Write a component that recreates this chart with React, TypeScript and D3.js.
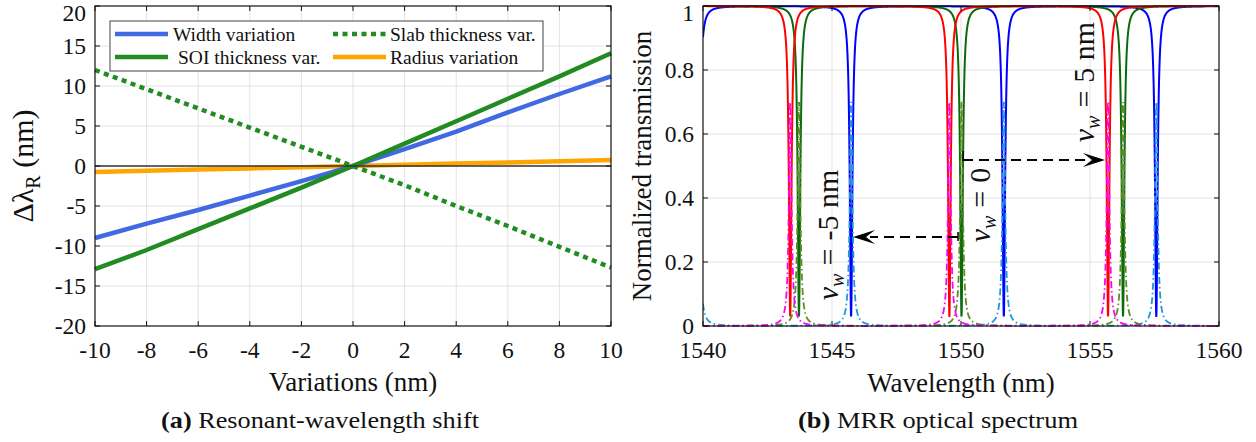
import React from 'react';
import * as d3 from 'd3';

// ---------- Panel (a) data ----------
const variations = [-10, -8, -6, -4, -2, 0, 2, 4, 6, 8, 10];
const widthShift = [-9.0, -7.2, -5.5, -3.7, -1.9, 0, 2.1, 4.3, 6.7, 9.0, 11.2];
const soiShift = [-12.9, -10.5, -7.9, -5.3, -2.7, 0, 2.8, 5.6, 8.4, 11.2, 14.1];
const slabShift = [12.0, 9.6, 7.2, 4.8, 2.4, 0, -2.4, -5.0, -7.5, -10.1, -12.7];
const radiusShift = [-0.75, -0.6, -0.45, -0.3, -0.15, 0, 0.15, 0.3, 0.45, 0.6, 0.75];
const xTicksA = [-10, -8, -6, -4, -2, 0, 2, 4, 6, 8, 10];
const yTicksA = [-20, -15, -10, -5, 0, 5, 10, 15, 20];

// ---------- Panel (b) data ----------
const xTicksB = [1540, 1545, 1550, 1555, 1560];
const yTicksB = [0, 0.2, 0.4, 0.6, 0.8, 1];
const yTickLabelsB = ['0', '0.2', '0.4', '0.6', '0.8', '1'];
const resonancesNeg = [1543.38, 1549.55, 1555.7]; // red / magenta
const resonancesZero = [1543.72, 1550.02, 1556.28]; // green / olive
const resonancesPos = [1539.82, 1545.74, 1551.66, 1557.57]; // blue / cyan
const dipMin = 0.03;
const dropPeak = 0.7;
const linewidth = 0.12;

const FONT = 'Liberation Serif, DejaVu Serif, serif';

const A = { x0: 95, x1: 611, y0: 6, y1: 326 };
const B = { x0: 703, x1: 1219, y0: 6, y1: 326 };

function lor(l: number, c: number) {
  const u = (2 * (l - c)) / linewidth;
  return 1 / (1 + u * u);
}

const lambdas = d3.range(1540, 1560.0001, 0.004);
function through(res: number[]) {
  return lambdas.map((l) => [l, 1 - (1 - dipMin) * d3.sum(res, (c) => lor(l, c))] as [number, number]);
}
function drop(res: number[]) {
  return lambdas.map((l) => [l, dropPeak * d3.sum(res, (c) => lor(l, c))] as [number, number]);
}

function Grid({ box, xs, ys, xt, yt }: any) {
  return (
    <g>
      {xt.slice(1, -1).map((t: number) => (
        <line key={'gx' + t} x1={xs(t)} x2={xs(t)} y1={box.y0} y2={box.y1} stroke="#e3e3e3" strokeWidth={1} />
      ))}
      {yt.slice(1, -1).map((t: number) => (
        <line key={'gy' + t} x1={box.x0} x2={box.x1} y1={ys(t)} y2={ys(t)} stroke="#e3e3e3" strokeWidth={1} />
      ))}
    </g>
  );
}

function Frame({ box, xs, ys, xt, yt, ytl }: any) {
  return (
    <g style={{ fontFamily: FONT }}>
      <rect x={box.x0} y={box.y0} width={box.x1 - box.x0} height={box.y1 - box.y0} fill="none" stroke="#111" strokeWidth={1.2} />
      {xt.map((t: number) => (
        <g key={'tx' + t}>
          <line x1={xs(t)} x2={xs(t)} y1={box.y1} y2={box.y1 - 5} stroke="#111" />
          <line x1={xs(t)} x2={xs(t)} y1={box.y0} y2={box.y0 + 5} stroke="#111" />
          <text x={xs(t)} y={358} textAnchor="middle" fontSize={23.5} fill="#111">
            {String(t)}
          </text>
        </g>
      ))}
      {yt.map((t: number, i: number) => (
        <g key={'ty' + t}>
          <line x1={box.x0} x2={box.x0 + 5} y1={ys(t)} y2={ys(t)} stroke="#111" />
          <line x1={box.x1} x2={box.x1 - 5} y1={ys(t)} y2={ys(t)} stroke="#111" />
          <text x={box.x0 - 9} y={Math.max(ys(t) + 8, 21)} textAnchor="end" fontSize={23.5} fill="#111">
            {ytl ? ytl[i] : String(t)}
          </text>
        </g>
      ))}
    </g>
  );
}

function Arrowhead({ x, y, dir }: { x: number; y: number; dir: number }) {
  const L = 22, Wd = 7, N = 13;
  const d = `M${x},${y} L${x + dir * L},${y - Wd} L${x + dir * N},${y} L${x + dir * L},${y + Wd} Z`;
  return <path d={d} fill="#000" />;
}

export default function App() {
  const xA = d3.scaleLinear().domain([-10, 10]).range([A.x0, A.x1]);
  const yA = d3.scaleLinear().domain([-20, 20]).range([A.y1, A.y0]);
  const xB = d3.scaleLinear().domain([1540, 1560]).range([B.x0, B.x1]);
  const yB = d3.scaleLinear().domain([0, 1]).range([B.y1, B.y0]);

  const lineA = (vals: number[]) =>
    d3.line<number>().x((_, i) => xA(variations[i])).y((v) => yA(v))(vals) || '';
  const lineB = d3
    .line<[number, number]>()
    .x((d) => xB(d[0]))
    .y((d) => yB(d[1]));

  const legendItems = [
    { label: 'Width variation', color: '#4169E1', dash: undefined, lx: 115, tx: 173, y: 34 },
    { label: 'SOI thickness var.', color: '#228B22', dash: undefined, lx: 115, tx: 178, y: 57 },
    { label: 'Slab thickness var.', color: '#228B22', dash: '5,4.5', lx: 333, tx: 390, y: 34 },
    { label: 'Radius variation', color: '#FFA500', dash: undefined, lx: 333, tx: 390, y: 57 },
  ];

  const dashDot = '7,3,1.5,3';

  return (
    <svg width={1256} height={442} style={{ position: 'absolute', left: 0, top: 0, background: '#fff', fontFamily: FONT }}>
      <rect width={1256} height={442} fill="#fff" />
      {/* ---------- Panel (a) ---------- */}
      <Grid box={A} xs={xA} ys={yA} xt={xTicksA} yt={yTicksA} />
      <path d={lineA(radiusShift)} fill="none" stroke="#FFA500" strokeWidth={4.5} />
      <path d={lineA(widthShift)} fill="none" stroke="#4169E1" strokeWidth={4.5} />
      <path d={lineA(soiShift)} fill="none" stroke="#228B22" strokeWidth={4.5} />
      <path d={lineA(slabShift)} fill="none" stroke="#228B22" strokeWidth={4.5} strokeDasharray="5,4.5" />
      <line x1={A.x0} x2={A.x1} y1={yA(0)} y2={yA(0)} stroke="#333" strokeWidth={1.5} />
      <Frame box={A} xs={xA} ys={yA} xt={xTicksA} yt={yTicksA} />
      <g>
        <rect x={110} y={21} width={433} height={50} fill="#fff" stroke="#444" strokeWidth={1} />
        {legendItems.map((it) => (
          <g key={it.label}>
            <line x1={it.lx} x2={it.lx + 53} y1={it.y} y2={it.y} stroke={it.color} strokeWidth={4.5} strokeDasharray={it.dash} />
            <text x={it.tx} y={it.y + 7} fontSize={19.5} fill="#111">
              {it.label}
            </text>
          </g>
        ))}
      </g>
      <text transform="translate(33,166) rotate(-90)" textAnchor="middle" fontSize={30} fill="#111">
        Δλ<tspan fontSize={20} dy={7}>R</tspan>
        <tspan dy={-7}> (nm)</tspan>
      </text>
      <text x={353} y={391} textAnchor="middle" fontSize={27} fill="#111">
        Variations (nm)
      </text>
      <text x={320} y={428} textAnchor="middle" fontSize={23} fill="#111" textLength={318} lengthAdjust="spacingAndGlyphs">
        <tspan fontWeight="bold">(a)</tspan> Resonant-wavelength shift
      </text>

      {/* ---------- Panel (b) ---------- */}
      <Grid box={B} xs={xB} ys={yB} xt={xTicksB} yt={yTicksB} />
      <defs>
        <clipPath id="clipB">
          <rect x={B.x0} y={B.y0 - 2} width={B.x1 - B.x0} height={B.y1 - B.y0 + 4} />
        </clipPath>
      </defs>
      <g clipPath="url(#clipB)">
        <path d={lineB(through(resonancesPos)) || ''} fill="none" stroke="#0000FF" strokeWidth={2} />
        <path d={lineB(through(resonancesZero)) || ''} fill="none" stroke="#0B6B0B" strokeWidth={2} />
        <path d={lineB(through(resonancesNeg)) || ''} fill="none" stroke="#FF0000" strokeWidth={2} />
        <path d={lineB(drop(resonancesPos)) || ''} fill="none" stroke="#1A9BD7" strokeWidth={1.8} strokeDasharray={dashDot} />
        <path d={lineB(drop(resonancesZero)) || ''} fill="none" stroke="#5E8C22" strokeWidth={1.8} strokeDasharray={dashDot} />
        <path d={lineB(drop(resonancesNeg)) || ''} fill="none" stroke="#FF00FF" strokeWidth={1.8} strokeDasharray={dashDot} />
      </g>
      <Frame box={B} xs={xB} ys={yB} xt={xTicksB} yt={yTicksB} ytl={yTickLabelsB} />

      {/* annotations */}
      <line x1={958} x2={870} y1={237} y2={237} stroke="#000" strokeWidth={2} strokeDasharray="10,6" />
      <line x1={958} x2={958} y1={232} y2={241} stroke="#000" strokeWidth={1.5} />
      <Arrowhead x={853} y={237} dir={1} />
      <line x1={963} x2={1090} y1={160} y2={160} stroke="#000" strokeWidth={2} strokeDasharray="10,6" />
      <line x1={963} x2={963} y1={151} y2={161} stroke="#000" strokeWidth={1.5} />
      <Arrowhead x={1105} y={160} dir={-1} />

      {[
        { x: 838, y: 235, rest: '-5 nm' },
        { x: 990, y: 205, rest: '0' },
        { x: 1094, y: 82, rest: '5 nm' },
      ].map((a) => (
        <text key={a.rest} transform={`translate(${a.x},${a.y}) rotate(-90)`} textAnchor="middle" fontSize={30} fill="#111">
          <tspan fontStyle="italic">ν</tspan>
          <tspan fontStyle="italic" fontSize={20} dy={6}>w</tspan>
          <tspan dy={-6} dx={8}>=</tspan>
          <tspan dx={8}>{a.rest}</tspan>
        </text>
      ))}

      <text transform="translate(651,166) rotate(-90)" textAnchor="middle" fontSize={27} fill="#111">
        Normalized transmission
      </text>
      <text x={961} y={392} textAnchor="middle" fontSize={27} fill="#111">
        Wavelength (nm)
      </text>
      <text x={938} y={428} textAnchor="middle" fontSize={23} fill="#111" textLength={280} lengthAdjust="spacingAndGlyphs">
        <tspan fontWeight="bold">(b)</tspan> MRR optical spectrum
      </text>
    </svg>
  );
}
